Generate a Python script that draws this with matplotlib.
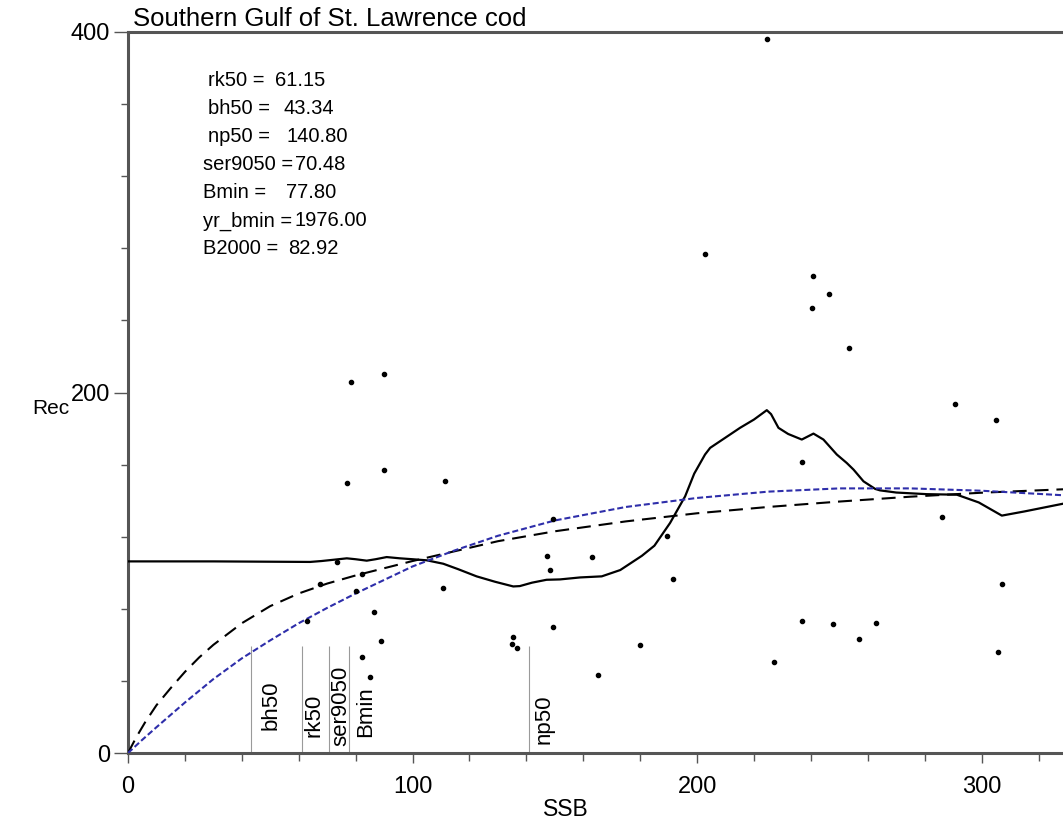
import matplotlib
matplotlib.use('Agg')
import matplotlib.pyplot as plt
from matplotlib.ticker import MultipleLocator

# ---------------- data ----------------
# observed stock-recruit points
ssb_obs = [224.6, 202.8, 240.8, 246.5, 240.5, 253.4,
           78.4, 90.0, 77.0, 90.0, 111.4,
           73.5, 149.4, 147.3, 148.3, 110.7,
           82.2, 67.5, 80.1, 86.5, 88.9, 82.2, 85.1,
           62.8, 135.2, 135.0, 136.6, 149.5,
           290.7, 305.1, 236.9, 286.1, 189.5, 163.1, 191.6, 307.2,
           236.9, 247.8, 262.9, 256.9, 180.0, 305.8, 227.1, 165.2]
rec_obs = [396.0, 277.0, 264.5, 254.5, 247.0, 224.5,
           206.0, 210.0, 150.0, 157.0, 151.0,
           106.0, 130.0, 109.5, 101.5, 91.5,
           99.5, 93.5, 90.0, 78.5, 62.0, 53.0, 42.0,
           73.0, 64.3, 60.5, 58.0, 69.8,
           193.5, 184.5, 161.5, 131.0, 120.5, 109.0, 96.5, 94.0,
           73.5, 71.5, 72.0, 63.0, 60.0, 56.0, 50.5, 43.3]

# smoother (solid line)
ssb_smooth = [0, 30, 64, 68, 72.2, 76.9, 80, 83.9, 87, 90.9, 95.6, 100, 105,
              110.8, 116, 122.5, 129, 135.4, 137.7, 142, 147.1, 151.8, 158.9,
              166.5, 173, 180.6, 185, 190.5, 195.8, 199, 202.8, 204.6, 210,
              215.1, 220, 224.5, 226, 228.6, 232, 236.8, 240.9, 244.4, 249.1,
              252.6, 255, 258.5, 262.6, 264.3, 270, 280.7, 291.3, 299, 307.1,
              315, 328.6]
rec_smooth = [106.3, 106.3, 106.0, 106.5, 107.2, 108.0, 107.5, 106.7, 107.5,
              108.7, 108.0, 107.5, 106.9, 105.0, 102.0, 98.0, 95.0, 92.4, 92.6,
              94.5, 96.1, 96.3, 97.4, 98.0, 101.5, 109.4, 115.0, 127.6, 142.4,
              155.0, 165.6, 169.3, 175.0, 180.4, 185.0, 190.2, 188.0, 180.4,
              177.0, 173.9, 177.2, 173.9, 165.6, 160.9, 157.2, 150.7, 146.5,
              145.7, 144.5, 143.6, 143.3, 139.0, 131.7, 134.0, 138.3]

# Beverton-Holt type fit (black dashed)
ssb_bh = [0, 3, 6, 10, 15, 20, 25, 30, 40, 50, 60, 70, 80, 90, 100, 115, 130,
          150, 175, 200, 225, 250, 275, 300, 328.6]
rec_bh = [0, 9, 17, 26.5, 36, 45, 53, 60, 72, 81.5, 88.5, 94, 98.5, 102.5,
          106.5, 112, 117.5, 123, 128.5, 133, 136.5, 139.5, 142.2, 144.4, 146.3]

# Ricker type fit (blue short dashes)
ssb_rk = [0, 5, 10, 20, 30, 40, 50, 60, 70, 80, 90, 100, 115, 130, 150, 175,
          200, 225, 250, 275, 300, 328.6]
rec_rk = [0, 7.3, 14.3, 28, 41, 52.5, 62.5, 72, 80.5, 88.5, 96, 103.5, 112.5,
          120.5, 129, 136.5, 141.5, 145, 146.8, 146.8, 145.5, 143.0]

# reference points (vertical markers)
ref_names = ['bh50', 'rk50', 'ser9050', 'Bmin', 'np50']
ref_values = [43.34, 61.15, 70.48, 77.80, 140.80]

# summary statistics block
stat_names = ['rk50', 'bh50', 'np50', 'ser9050', 'Bmin', 'yr_bmin', 'B2000']
stat_values = ['61.15', '43.34', '140.80', '70.48', '77.80', '1976.00', '82.92']

title = 'Southern Gulf of St. Lawrence cod'

# ---------------- layout / style ----------------
W, H = 1063, 826
plt.rcParams['font.family'] = ['Liberation Sans', 'DejaVu Sans']

fig = plt.figure(figsize=(W / 100, H / 100), dpi=100)
ax = fig.add_axes([128 / W, 1 - 753 / H, (W - 128) / W, (753 - 32) / H])
ax.set_xlim(0, 328.6)
ax.set_ylim(0, 400)

spine_col = '#555555'
for s in ['left', 'bottom', 'top']:
    ax.spines[s].set_color(spine_col)
    ax.spines[s].set_linewidth(2.2)
ax.spines['right'].set_visible(False)

ax.xaxis.set_major_locator(MultipleLocator(100))
ax.xaxis.set_minor_locator(MultipleLocator(20))
ax.yaxis.set_major_locator(MultipleLocator(200))
ax.yaxis.set_minor_locator(MultipleLocator(40))
ax.tick_params(axis='x', which='major', length=7.5, width=1, color=spine_col,
               labelsize=17, pad=9)
ax.tick_params(axis='x', which='minor', length=6, width=1, color=spine_col)
ax.tick_params(axis='y', which='major', length=10, width=1, color=spine_col,
               labelsize=17, pad=3)
ax.tick_params(axis='y', which='minor', length=5, width=1, color=spine_col)

# vertical reference lines and labels
label_dx_px = [25, 18, 18, 22, 21]
label_bottom_px = [730, 737, 746, 737, 744]
ax.vlines(ref_values, 0, 59.5, color='#9a9a9a', lw=0.8, zorder=1)
for name, v, dx, bpx in zip(ref_names, ref_values, label_dx_px, label_bottom_px):
    ax.annotate(name, xy=(v, (753 - bpx) / 1.8025), xytext=(dx * 0.72, 0),
                textcoords='offset points', rotation=90, rotation_mode='anchor',
                ha='left', va='baseline', fontsize=16)

# curves
ax.plot(ssb_smooth, rec_smooth, color='black', lw=1.6, zorder=3)
ax.plot(ssb_bh, rec_bh, color='black', lw=1.5, dashes=(6.7, 3.8), zorder=3)
ax.plot(ssb_rk, rec_rk, color='#2e2eaa', lw=1.5, dashes=(2.9, 1.4), zorder=3)

# data points
ax.plot(ssb_obs, rec_obs, ls='none', marker='o', ms=3, color='black', zorder=4)

# axis labels
ax.set_xlabel('SSB', fontsize=16.5)
ax.xaxis.set_label_coords((566 - 128) / 935, (753 - 798) / 721)
ax.set_ylabel('Rec', fontsize=15, rotation=0, ha='center', va='center')
ax.yaxis.set_label_coords((51 - 128) / 935, (753 - 408) / 721)

# title
fig.text(133 / W, 1 - 26 / H, title, fontsize=18.5, ha='left', va='baseline')

# statistics block: name, then value placed a small gap after the name
name_x_px = [208, 208, 208, 203, 203, 203, 203]
value_gap_px = [11, 13, 16, 2, 20, 2, 10]
for i, (nm, val) in enumerate(zip(stat_names, stat_values)):
    yc = 81 + 28 * i
    t = fig.text(name_x_px[i] / W, 1 - yc / H, nm + ' =', fontsize=14.5,
                 ha='left', va='center')
    ax.annotate(val, xy=(1, 0.5), xycoords=t, xytext=(value_gap_px[i] * 0.72, 0),
                textcoords='offset points', ha='left', va='center', fontsize=14.5)

fig.savefig('out.png', dpi=100)
